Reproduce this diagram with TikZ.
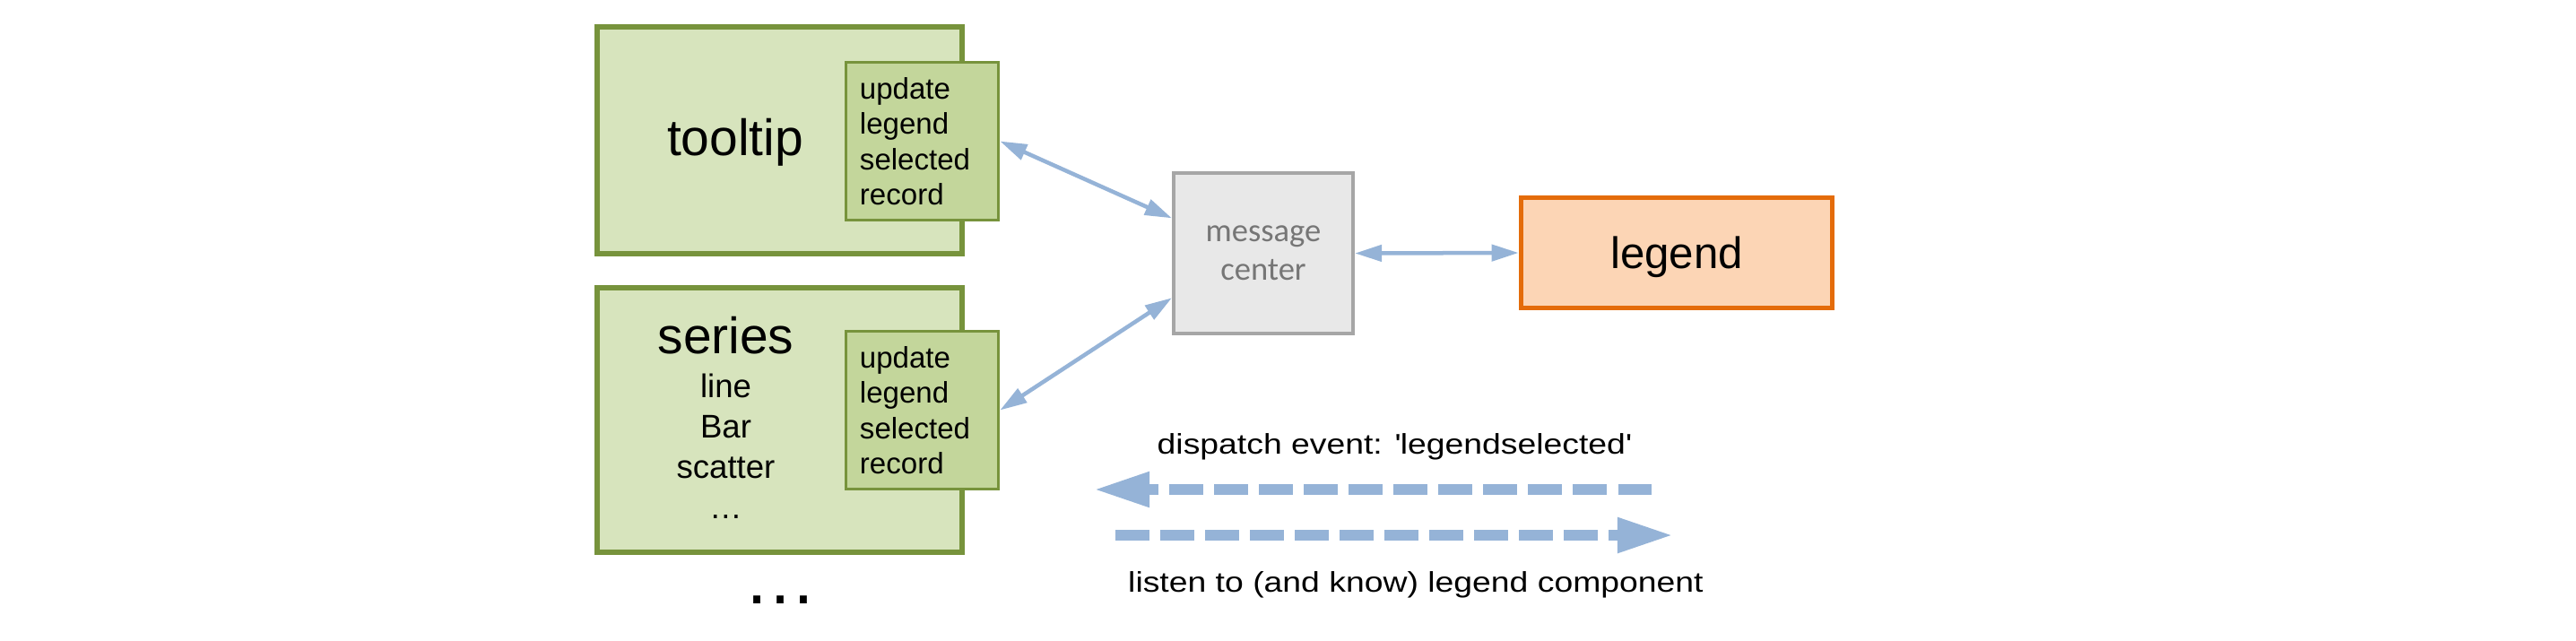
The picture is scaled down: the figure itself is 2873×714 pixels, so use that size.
\documentclass[tikz,border=0pt]{standalone}
\usepackage{fontspec}
\setmainfont{Liberation Sans}
\newfontfamily\calibrifont{Carlito}
\newfontfamily\widefont[FakeStretch=1.18]{Liberation Sans}
\usepackage{tikz}
\usetikzlibrary{arrows.meta}
\definecolor{OliveLine}{HTML}{77933C}
\definecolor{OliveFill}{HTML}{D7E4BD}
\definecolor{OliveTag}{HTML}{C3D69B}
\definecolor{GreyLine}{HTML}{A6A6A6}
\definecolor{GreyFill}{HTML}{E8E8E8}
\definecolor{GreyText}{HTML}{767676}
\definecolor{OrangeLine}{HTML}{E46C0A}
\definecolor{OrangeFill}{HTML}{FCD5B5}
\definecolor{ArrowBlue}{HTML}{95B3D7}

\begin{document}
\begin{tikzpicture}[
  x=0.01cm, y=-0.01cm,
  comp/.style={rectangle, draw=OliveLine, fill=OliveFill, line width=0.06cm, minimum width=4.07cm, minimum height=2.53cm, inner sep=0},
  tag/.style={rectangle, draw=OliveLine, fill=OliveTag, line width=0.035cm, minimum width=1.7cm, minimum height=1.76cm, text width=1.39cm, inner xsep=0.155cm, align=left, font=\fontsize{9.4}{11.24}\selectfont},
  hub/.style={rectangle, draw=GreyLine, fill=GreyFill, line width=0.04cm, minimum width=2cm, minimum height=1.79cm, align=center, text=GreyText, font=\calibrifont\fontsize{10.4}{12.2}\selectfont},
  target/.style={rectangle, draw=OrangeLine, fill=OrangeFill, line width=0.05cm, minimum width=3.475cm, minimum height=1.23cm, text depth=0pt, font=\fontsize{14}{17}\selectfont},
  title/.style={anchor=base, inner sep=0, font=\fontsize{16.2}{19}\selectfont},
  link/.style={{Triangle[length=0.3cm,width=0.18cm]}-{Triangle[length=0.3cm,width=0.18cm]}, line width=0.045cm, ArrowBlue},
  event/.style={-{Triangle[length=0.62cm,width=0.367cm]}, line width=0.12cm, ArrowBlue, dash pattern=on 0.375cm off 0.125cm},
  caption/.style={anchor=base west, inner sep=0, font=\widefont\fontsize{9}{11}\selectfont}
]
\useasboundingbox (0,0) rectangle (2873,714);

% Components
\node[comp] (tooltip) at (869.5,156.5) {};
\node[comp, minimum height=2.95cm] (series) at (869.5,468.8) {};
\node[title] (tname) at (820,173) {tooltip};
\node[title] (sname) at (809.5,394) {series};
\node[anchor=north, inner sep=0, align=center, font=\fontsize{10.4}{12.8}\selectfont] (stypes) at (809.5,416.7) {line\\Bar\\scatter\\…};
\node[anchor=base, inner sep=0, font=\fontsize{23.3}{28}\selectfont] (more) at (870,673) {…};

% Handlers
\node[tag] (ttag) at (1028.5,157.5) {update\\legend\\selected\\record};
\node[tag] (stag) at (1028.5,457.5) {update\\legend\\selected\\record};

% Message center and legend
\node[hub] (msg) at (1409,282.5) {message\\center};
\node[target] (legend) at (1870,282) {legend};

% Arrows
\draw[link] (ttag.east) -- (msg.159);
\draw[link] (stag.east) -- (msg.206);
\draw[link] (msg.east) -- (legend.west);

% Events
\coordinate (dispstart) at (1842,546);
\coordinate (dispend) at (1220,546);
\coordinate (listenstart) at (1244,597);
\coordinate (listenend) at (1866,597);
\draw[event] (dispstart) -- (dispend);
\draw[event] (listenstart) -- (listenend);
\node[caption] (dispatch) at (1290,506.5) {dispatch event: \textquotesingle legendselected\textquotesingle};
\node[caption] (listen) at (1257.5,660) {listen to (and know) legend component};

\end{tikzpicture}
\end{document}
